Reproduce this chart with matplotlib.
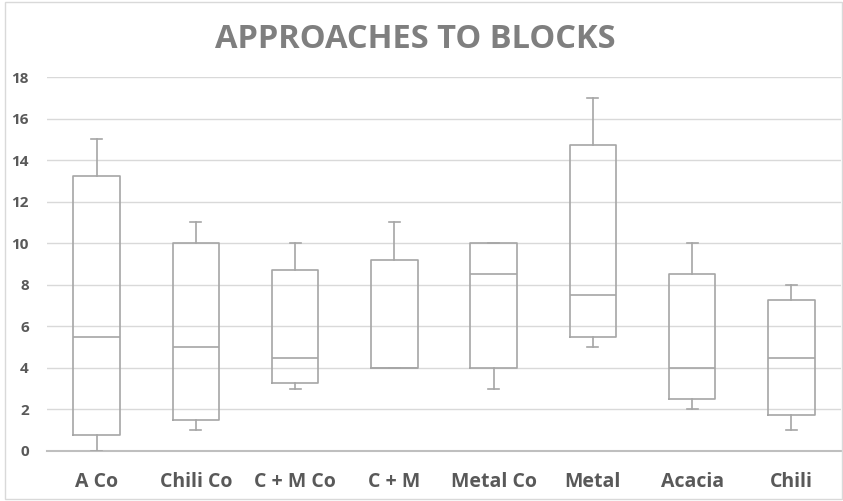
import matplotlib
matplotlib.use("Agg")
import matplotlib.pyplot as plt
from matplotlib.patches import Rectangle

categories = ["A Co", "Chili Co", "C + M Co", "C + M", "Metal Co", "Metal", "Acacia", "Chili"]
whisker_low = [0, 1, 3, 4, 3, 5, 2, 1]
q1 = [0.75, 1.5, 3.25, 4, 4, 5.5, 2.5, 1.75]
median = [5.5, 5, 4.5, 4, 8.5, 7.5, 4, 4.5]
q3 = [13.25, 10, 8.7, 9.2, 10, 14.75, 8.5, 7.25]
whisker_high = [15, 11, 10, 11, 10, 17, 10, 8]
y_ticks = [0, 2, 4, 6, 8, 10, 12, 14, 16, 18]

BOX_COLOR = "#a6a6a6"
GRID_COLOR = "#d9d9d9"
TEXT_COLOR = "#595959"

fig = plt.figure(figsize=(8.43, 5.01), dpi=100)
fig.patches.append(Rectangle((5 / 843, 0.004), 1 - 6 / 843, 0.992, transform=fig.transFigure,
                             fill=False, edgecolor="#d9d9d9", linewidth=1.0))
ax = fig.add_axes([47 / 843, 1 - 451 / 501, 794 / 843, 374 / 501])

stats = []
for lab, lo, a, m, b, hi in zip(categories, whisker_low, q1, median, q3, whisker_high):
    stats.append(dict(label=lab, whislo=lo, q1=a, med=m, q3=b, whishi=hi, fliers=[]))

positions = [i + 0.5 for i in range(len(categories))]
line = dict(color=BOX_COLOR, linewidth=1.2)
ax.bxp(stats, positions=positions, widths=0.47, showfliers=False,
       boxprops=line, whiskerprops=line, capprops=line, medianprops=line,
       capwidths=0.11, zorder=3)

ax.set_xlim(0, 8)
ax.set_ylim(0, 18)
ax.set_yticks(y_ticks)
ax.yaxis.grid(True, color=GRID_COLOR, linewidth=1.0, zorder=0)
ax.set_axisbelow(True)
for side in ("top", "right", "left"):
    ax.spines[side].set_visible(False)
ax.spines["bottom"].set_color("#bfbfbf")
ax.spines["bottom"].set_linewidth(1.5)
ax.tick_params(axis="both", length=0, colors=TEXT_COLOR)
ax.tick_params(axis="x", pad=15)
ax.tick_params(axis="y", pad=13)
ax.set_xticks(positions)
ax.set_xticklabels(categories, fontsize=14, fontfamily="Open Sans", fontweight="bold")
for t in ax.get_yticklabels():
    t.set_fontfamily("Open Sans")
    t.set_fontweight("bold")
    t.set_fontsize(11)

fig.text(415 / 843, 1 - 40 / 501, "APPROACHES TO BLOCKS", ha="center", va="center",
         fontsize=23.5, fontfamily="Open Sans", fontweight="bold", color="#7f7f7f")

fig.savefig("out.png", dpi=100)
